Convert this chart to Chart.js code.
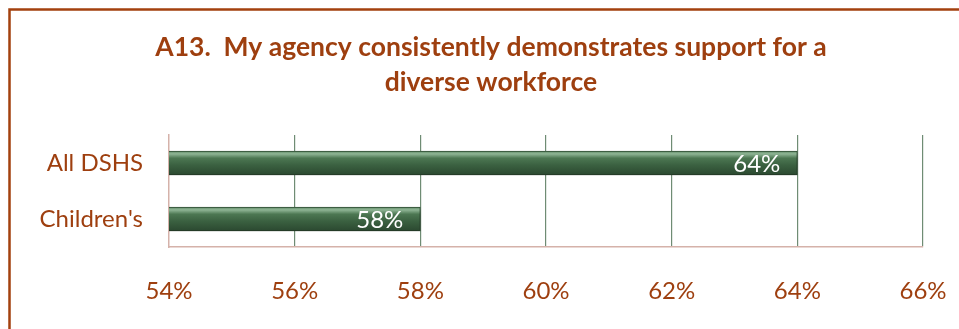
<!DOCTYPE html>
<html>
<head>
<meta charset="utf-8">
<script src="https://cdn.jsdelivr.net/npm/chart.js@4.4.1/dist/chart.umd.min.js"></script>
<style>
    html, body { margin: 0; padding: 0; background: #fff; }
    #wrap { width: 959px; height: 329px; position: relative; }
</style>
</head>
<body>
<div id="wrap"><canvas id="statChart" width="959" height="329"></canvas></div>
<script>
// Dữ liệu biểu đồ
const categories = ['All DSHS', "Children's"];
const percentValues = [64, 58];
const tickValues = [54, 56, 58, 60, 62, 64, 66];
const titleLines = ['A13.  My agency consistently demonstrates support for a', 'diverse workforce'];

const brown = '#9e3f0f';
const axisPink = '#d5b2aa';
const gridGreen = '#6f8c74';

// Khung viền nâu quanh biểu đồ
const frameBorder = {
    id: 'frameBorder',
    beforeDraw(chart) {
        const c = chart.ctx;
        c.save();
        c.strokeStyle = '#a3400e';
        c.lineWidth = 2.5;
        c.strokeRect(9.5, 9.5, 1100, 500);
        c.restore();
    }
};

// Bóng đổ dưới thanh + nhãn giá trị bên trong
const barExtras = {
    id: 'barExtras',
    beforeDatasetDraw(chart) {
        const c = chart.ctx;
        c.save();
        c.shadowColor = 'rgba(0,0,0,0.35)';
        c.shadowBlur = 5;
        c.shadowOffsetX = 2;
        c.shadowOffsetY = 4;
    },
    afterDatasetDraw(chart) {
        const c = chart.ctx;
        c.restore();
        const meta = chart.getDatasetMeta(0);
        c.save();
        c.font = '24px Lato';
        c.fillStyle = '#ffffff';
        c.textAlign = 'right';
        c.textBaseline = 'middle';
        meta.data.forEach((bar, i) => {
            c.fillText(percentValues[i] + '%', bar.x - 17, bar.y + 1);
        });
        c.restore();
    }
};

// Gradient dọc cho thanh (sáng ở mép trên, tối dần xuống dưới)
function barGradient(context) {
    const chart = context.chart;
    const yScale = chart.scales.y;
    if (!yScale || !chart.chartArea) return '#3a6040';
    const cy = yScale.getPixelForValue(context.dataIndex);
    if (!isFinite(cy)) return '#3a6040';
    const top = cy - 12;
    const g = chart.ctx.createLinearGradient(0, top, 0, top + 24);
    g.addColorStop(0, '#5f8a65');
    g.addColorStop(0.12, '#8fb595');
    g.addColorStop(0.3, '#4c7752');
    g.addColorStop(0.6, '#3a6040');
    g.addColorStop(1, '#2b4830');
    return g;
}

const ctx = document.getElementById('statChart').getContext('2d');
let chart = new Chart(ctx, {
    type: 'bar',
    data: {
        labels: categories,
        datasets: [{
            data: percentValues,
            backgroundColor: barGradient,
            borderColor: '#2f4d33',
            borderWidth: 1,
            borderSkipped: false,
            barThickness: 24
        }]
    },
    plugins: [frameBorder, barExtras],
    options: {
        indexAxis: 'y',
        responsive: false,
        animation: false,
        layout: {
            padding: { left: 23, right: 0, top: 10, bottom: 0 }
        },
        plugins: {
            legend: { display: false },
            tooltip: { enabled: false },
            title: {
                display: true,
                text: titleLines,
                color: brown,
                font: { family: 'Lato', size: 26.5, weight: 'bold', lineHeight: 1.32 },
                padding: { top: 20, bottom: 35 }
            }
        },
        scales: {
            x: {
                min: 54,
                max: 66,
                afterFit(scale) {
                    scale.height = 82;
                    scale.paddingRight = 36;
                },
                afterBuildTicks(scale) {
                    scale.ticks = tickValues.map(v => ({ value: v }));
                },
                ticks: {
                    color: brown,
                    font: { family: 'Lato', size: 24 },
                    padding: 30,
                    callback: v => v + '%'
                },
                grid: {
                    drawTicks: false,
                    color: c => c.index === 0 ? 'rgba(0,0,0,0)' : gridGreen,
                    lineWidth: 1.2
                },
                border: { display: true, color: axisPink, width: 1.5 }
            },
            y: {
                afterFit(scale) { scale.width = 146; },
                ticks: {
                    color: brown,
                    font: { family: 'Lato', size: 24 },
                    padding: 26
                },
                grid: { display: false, drawTicks: false },
                border: { display: true, color: axisPink, width: 1.5 }
            }
        }
    }
});
</script>
</body>
</html>
